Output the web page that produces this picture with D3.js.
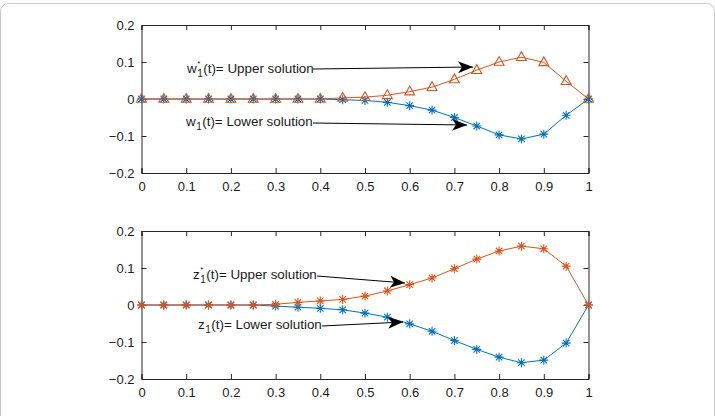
<!DOCTYPE html>
<html>
<head>
<meta charset="utf-8">
<script src="https://cdn.jsdelivr.net/npm/d3@7"></script>
<style>
  body { margin: 0; background: #fff; }
  text { font-family: "Liberation Sans", Arial, Helvetica, sans-serif; fill: #1a1a1a; }
</style>
</head>
<body>
<div id="chart"></div>
<script>
// t values (x axis)
let tVals = [0, 0.05, 0.1, 0.15, 0.2, 0.25, 0.3, 0.35, 0.4, 0.45, 0.5,
             0.55, 0.6, 0.65, 0.7, 0.75, 0.8, 0.85, 0.9, 0.95, 1];

// top panel: w1* (upper) and w1 (lower)
let wUpper = [0, 0, 0, 0, 0, 0, 0, 0, 0, 0.003, 0.005,
              0.01, 0.02, 0.032, 0.053, 0.078, 0.1, 0.113, 0.099, 0.048, 0];
let wLower = [0, 0, 0, 0, 0, 0, 0, 0, 0, -0.002, -0.004,
              -0.009, -0.018, -0.03, -0.05, -0.073, -0.097, -0.108, -0.095, -0.044, 0];

// bottom panel: z1* (upper) and z1 (lower)
let zUpper = [0, 0, 0, 0, 0, 0, 0.002, 0.007, 0.011, 0.015, 0.024,
              0.038, 0.055, 0.073, 0.098, 0.124, 0.146, 0.159, 0.152, 0.105, 0];
let zLower = [0, 0, 0, 0, 0, 0, -0.003, -0.006, -0.009, -0.013, -0.022,
              -0.033, -0.051, -0.071, -0.096, -0.12, -0.141, -0.156, -0.149, -0.103, 0];

let xTicks = [0, 0.1, 0.2, 0.3, 0.4, 0.5, 0.6, 0.7, 0.8, 0.9, 1];
let yTicks = [-0.2, -0.1, 0, 0.1, 0.2];

let blue = "#0072BD", orange = "#D95319";
let width = 715, height = 416;

let svg = d3.select("#chart").append("svg")
    .attr("width", width)
    .attr("height", height);

// light frame round the figure
svg.append("rect")
    .attr("x", 0.5).attr("y", 3.5)
    .attr("width", width - 1).attr("height", height + 10)
    .attr("rx", 8)
    .attr("fill", "none")
    .attr("stroke", "#c8c8c8");

let x = d3.scaleLinear().domain([0, 1]).range([141.5, 588.5]);

function starPath(r) {
    let d = r * 0.72;
    return `M${-r},0H${r}M0,${-r}V${r}M${-d},${-d}L${d},${d}M${-d},${d}L${d},${-d}`;
}
function triPath(r) {
    return `M0,${-r}L${r * 0.9},${r * 0.6}L${-r * 0.9},${r * 0.6}Z`;
}

function drawPanel(top, bottom, series, notes) {
    let y = d3.scaleLinear().domain([-0.2, 0.2]).range([bottom, top]);
    let g = svg.append("g");

    // axes: ticks inside on all four sides
    g.append("g")
        .attr("transform", `translate(0,${bottom})`)
        .call(d3.axisBottom(x).tickValues(xTicks).tickSize(-5).tickPadding(9)
            .tickFormat(d3.format("")));
    g.append("g")
        .attr("transform", `translate(0,${top})`)
        .call(d3.axisTop(x).tickValues(xTicks).tickSize(-5).tickFormat(""));
    g.append("g")
        .attr("transform", `translate(${x(0)},0)`)
        .call(d3.axisLeft(y).tickValues(yTicks).tickSize(-5).tickPadding(7)
            .tickFormat(d3.format("")));
    g.append("g")
        .attr("transform", `translate(${x(1)},0)`)
        .call(d3.axisRight(y).tickValues(yTicks).tickSize(-5).tickFormat(""));

    g.selectAll(".domain").attr("stroke", "#262626").attr("stroke-width", 1);
    g.selectAll(".tick line").attr("stroke", "#262626");
    g.selectAll(".tick text").style("font-size", "13px")
        .style("font-family", "'Liberation Sans', Arial, sans-serif")
        .attr("fill", "#1a1a1a");

    // data lines + markers
    series.forEach(function(s) {
        let pts = tVals.map(function(t, i) { return [t, s.values[i]]; });
        g.append("path")
            .datum(pts)
            .attr("fill", "none")
            .attr("stroke", s.color)
            .attr("stroke-width", 1)
            .attr("d", d3.line().x(function(d) { return x(d[0]); })
                                .y(function(d) { return y(d[1]); }));
        g.selectAll(null).data(pts).enter()
            .append("path")
            .attr("transform", function(d) { return `translate(${x(d[0])},${y(d[1])})`; })
            .attr("d", s.marker === "tri" ? triPath(5.5) : starPath(4.5))
            .attr("fill", "none")
            .attr("stroke", s.color)
            .attr("stroke-width", 1.1);
    });

    // annotations with arrows
    notes.forEach(function(n) {
        let t = g.append("text")
            .attr("x", n.x).attr("y", n.y)
            .style("font-size", "13.4px");
        let base = t.append("tspan").text(n.sym);
        let wBase = base.node().getComputedTextLength();
        let after = g.append("text").attr("y", n.y).style("font-size", "13.4px");
        if (n.star) {
            g.append("text").attr("x", n.x + wBase + 0.5).attr("y", n.y - 7)
                .style("font-size", "8px").text("*");
        }
        let sub = g.append("text").attr("x", n.x + wBase + 0.5).attr("y", n.y + 4)
            .style("font-size", "10px").text("1");
        let wSub = sub.node().getComputedTextLength();
        after.attr("x", n.x + wBase + wSub + 1).text(n.rest);

        let a = n.arrow;
        g.append("line")
            .attr("x1", a[0]).attr("y1", a[1]).attr("x2", a[2]).attr("y2", a[3])
            .attr("stroke", "#000").attr("stroke-width", 1);
        let ang = Math.atan2(a[3] - a[1], a[2] - a[0]) * 180 / Math.PI;
        g.append("path")
            .attr("transform", `translate(${a[2]},${a[3]}) rotate(${ang})`)
            .attr("d", "M0,0L-15,-6L-11,0L-15,6Z")
            .attr("fill", "#000");
    });
}

drawPanel(25, 173,
    [{ values: wLower, color: blue, marker: "star" },
     { values: wUpper, color: orange, marker: "tri" }],
    [{ x: 187, y: 73, sym: "w", star: true, rest: "(t)= Upper solution", arrow: [313, 69, 473, 67] },
     { x: 186, y: 126, sym: "w", star: false, rest: "(t)= Lower solution", arrow: [313, 123, 467, 125] }]);

drawPanel(231, 379,
    [{ values: zLower, color: blue, marker: "star" },
     { values: zUpper, color: orange, marker: "star" }],
    [{ x: 193, y: 279, sym: "z", star: true, rest: "(t)= Upper solution", arrow: [317, 276, 405, 283] },
     { x: 198, y: 329, sym: "z", star: false, rest: "(t)= Lower solution", arrow: [322, 326, 403, 322] }]);
</script>
</body>
</html>
